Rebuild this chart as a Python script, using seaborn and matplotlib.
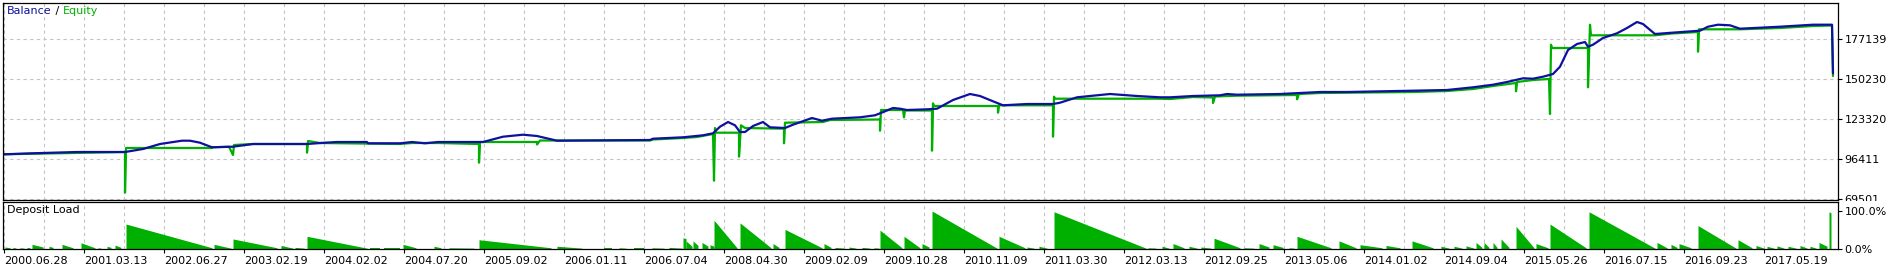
import numpy as np
import pandas as pd
import matplotlib
matplotlib.use("Agg")
import matplotlib.pyplot as plt
import seaborn as sns
from matplotlib.offsetbox import TextArea, HPacker, AnchoredOffsetbox
from matplotlib.ticker import FixedLocator
from matplotlib.transforms import Bbox, TransformedBbox

# ---------------- data ----------------
date_labels = ["2000.06.28", "2001.03.13", "2002.06.27", "2003.02.19", "2004.02.02",
               "2004.07.20", "2005.09.02", "2006.01.11", "2006.07.04", "2008.04.30",
               "2009.02.09", "2009.10.28", "2010.11.09", "2011.03.30", "2012.03.13",
               "2012.09.25", "2013.05.06", "2014.01.02", "2014.09.04", "2015.05.26",
               "2016.07.15", "2016.09.23", "2017.05.19"]
balance_ticks = [69501, 96411, 123320, 150230, 177139]
load_ticks = [0, 100]
load_tick_labels = ["0.0%", "100.0%"]

bal_deal = [0, 28, 73, 121, 139, 156, 178, 186, 196, 208, 229, 249, 274, 303, 321, 333,
            363, 364, 396, 408, 421, 434, 479, 499, 519, 533, 553, 646, 649, 679, 699,
            709, 716, 724, 731, 736, 741, 749, 759, 766, 781, 789, 808, 818, 828, 856,
            871, 881, 889, 896, 903, 923, 933, 949, 966, 976, 989, 999, 1023, 1049,
            1056, 1073, 1106, 1133, 1156, 1166, 1189, 1216, 1223, 1233, 1276, 1316,
            1343, 1409, 1443, 1469, 1489, 1503, 1519, 1529, 1539, 1549, 1556, 1564,
            1573, 1581, 1584, 1589, 1599, 1613, 1623, 1633, 1639, 1651, 1668, 1696,
            1704, 1714, 1726, 1736, 1776, 1809, 1828, 1829]
bal_value = [99572, 100245, 101120, 101120, 103138, 106501, 108722, 108722, 107376,
             104282, 104685, 106501, 106501, 106501, 107376, 107847, 107847, 106973,
             106973, 107847, 106973, 107847, 107847, 111413, 112758, 111884, 108722,
             109193, 110067, 111009, 112355, 113700, 118140, 121302, 119082, 114575,
             114575, 118611, 121302, 117736, 117266, 119486, 123993, 122177, 123522,
             124464, 125809, 128500, 130720, 130249, 129375, 129846, 130249, 136102,
             140139, 138793, 135227, 132537, 133411, 133411, 134286, 137919, 140139,
             138793, 137919, 137919, 138793, 139264, 140139, 139668, 140139, 141484,
             141484, 142359, 142830, 144646, 146395, 148212, 150701, 150432, 151777,
             153594, 158505, 169739, 173776, 175121, 171959, 173305, 177812, 180974,
             184540, 188576, 187231, 180503, 181378, 182723, 185414, 186760, 186356,
             184069, 185414, 186760, 186760, 154064]

eq_deal = [0, 121, 121, 122, 208, 208, 225, 229, 230, 249, 274, 303, 303, 304, 316, 396,
           408, 434, 475, 475, 476, 533, 533, 536, 553, 646, 649, 679, 693, 709, 710,
           711, 712, 735, 735, 737, 741, 780, 780, 781, 819, 826, 876, 876, 877, 899,
           900, 901, 928, 928, 929, 930, 994, 994, 995, 1049, 1049, 1050, 1051, 1156,
           1166, 1189, 1209, 1209, 1211, 1233, 1293, 1293, 1295, 1316, 1409, 1443,
           1469, 1489, 1512, 1512, 1513, 1529, 1545, 1546, 1547, 1548, 1584, 1584,
           1586, 1587, 1651, 1668, 1694, 1694, 1695, 1736, 1776, 1809, 1828, 1829]
eq_value = [99572, 101120, 73739, 103811, 103811, 104282, 104685, 99102, 105829, 106501,
            106501, 106501, 100649, 108520, 107174, 106501, 107174, 107174, 106501,
            93921, 107847, 107847, 106165, 108856, 108856, 108856, 109529, 110538,
            111211, 113229, 81812, 117266, 114104, 114104, 97958, 119082, 117266,
            116795, 106973, 120831, 121302, 122647, 122984, 115449, 129375, 129375,
            124464, 129038, 129038, 101994, 133882, 132066, 132066, 127558, 132537,
            132537, 111413, 138322, 136977, 136977, 136775, 138120, 137784, 134084,
            138457, 138995, 139466, 136573, 140139, 140811, 141484, 142157, 143502,
            145521, 147539, 141955, 148212, 149557, 150230, 126684, 173305, 171085,
            171085, 144646, 186760, 179627, 179627, 180839, 181849, 168596, 183665,
            183665, 184540, 185885, 186221, 152248]

# deposit load episodes: start deal, end deal, load at start (%), load at end (%)
load_start = [1, 9, 16, 23, 28, 45, 58, 77, 94, 103, 111, 122, 210, 229, 277, 291, 303,
              366, 380, 399, 430, 445, 475, 553, 600, 615, 630, 648, 665, 679, 682, 689,
              698, 706, 710, 736, 769, 781, 820, 831, 845, 858, 870, 876, 900, 918, 928,
              995, 1023, 1035, 1050, 1144, 1158, 1169, 1185, 1197, 1210, 1240, 1255,
              1269, 1285, 1293, 1335, 1356, 1382, 1408, 1437, 1450, 1462, 1472, 1480,
              1489, 1497, 1512, 1532, 1546, 1585, 1653, 1667, 1675, 1694, 1734, 1752,
              1763, 1773, 1784, 1796, 1806, 1815, 1825]
load_end = [6, 12, 20, 26, 39, 49, 69, 91, 97, 107, 117, 208, 227, 273, 289, 300, 363,
            376, 396, 412, 437, 470, 547, 578, 608, 622, 640, 660, 678, 682, 688, 694,
            704, 710, 733, 767, 775, 818, 827, 840, 852, 866, 875, 898, 916, 925, 993,
            1021, 1030, 1043, 1142, 1152, 1165, 1180, 1193, 1207, 1236, 1250, 1265,
            1279, 1290, 1327, 1352, 1378, 1396, 1429, 1445, 1458, 1470, 1478, 1485,
            1493, 1505, 1530, 1544, 1582, 1651, 1663, 1673, 1687, 1732, 1748, 1760,
            1770, 1780, 1792, 1803, 1812, 1823, 1827]
load_peak = [6, 5, 4, 5, 13, 8, 13, 17, 4, 8, 11, 66, 13, 27, 10, 5, 34, 3, 3, 13, 8, 4,
             25, 8, 3, 4, 3, 4, 5, 30, 22, 22, 18, 12, 76, 69, 15, 52, 15, 5, 6, 5, 4,
             50, 34, 15, 100, 34, 6, 8, 98, 4, 8, 15, 8, 6, 29, 4, 15, 12, 4, 34, 22,
             12, 10, 22, 8, 8, 9, 18, 18, 18, 27, 60, 15, 66, 98, 18, 13, 15, 62, 25,
             10, 8, 9, 8, 10, 8, 18, 98]
load_tail = [4, 3, 3, 4, 6, 5, 4, 4, 3, 5, 5, 4, 3, 4, 3, 3, 3, 3, 3, 4, 4, 3, 4, 3, 3,
             3, 3, 3, 3, 28, 8, 10, 8, 8, 4, 4, 5, 4, 5, 3, 3, 3, 3, 4, 4, 6, 3, 4, 3,
             3, 3, 3, 3, 4, 3, 3, 4, 3, 6, 5, 3, 4, 4, 4, 4, 4, 3, 3, 3, 5, 5, 5, 5, 4,
             4, 4, 3, 4, 5, 4, 3, 4, 3, 3, 3, 3, 3, 3, 8, 95]

# ---------------- style ----------------
BLUE = "#1010a0"
GREEN = "#00b000"
GRID = "#c4c4c4"

sns.set_theme(style="white")
plt.rcParams["font.family"] = ["DejaVu Sans"]
plt.rcParams["font.size"] = 8

W, H = 1889, 264
fig = plt.figure(figsize=(W / 100, H / 100), dpi=100)
fig.patch.set_facecolor("white")
L, R = 3.3, 1837.7
ax1 = fig.add_axes([L / W, 1 - 200 / H, (R - L) / W, (200 - 3.3) / H])
ax2 = fig.add_axes([L / W, 1 - 249.3 / H, (R - L) / W, (249.3 - 201.7) / H])

n = len(date_labels)
major = [80 * i for i in range(n)]
minor = [80 * i + 40 for i in range(n)]

for ax in (ax1, ax2):
    ax.set_facecolor("white")
    ax.set_xlim(-0.7, 1833.7)
    ax.xaxis.set_major_locator(FixedLocator(major))
    ax.xaxis.set_minor_locator(FixedLocator(minor))
    ax.grid(True, which="both", axis="x", color=GRID, linestyle=(0, (3, 3)), linewidth=0.8)
    for s in ax.spines.values():
        s.set_color("black")
        s.set_linewidth(0.9)
    ax.set_axisbelow(True)

# main panel
bal_df = pd.DataFrame({"deal": bal_deal, "value": bal_value})
eq_df = pd.DataFrame({"deal": eq_deal, "value": eq_value})
sns.lineplot(data=eq_df, x="deal", y="value", ax=ax1, color=GREEN, linewidth=1.6,
             estimator=None, sort=False, legend=False)
sns.lineplot(data=bal_df, x="deal", y="value", ax=ax1, color=BLUE, linewidth=1.6,
             estimator=None, sort=False, legend=False)
step = balance_ticks[1] - balance_ticks[0]
ax1.set_ylim(balance_ticks[0] - step / 40, balance_ticks[0] + step * 195.7 / 40)
ax1.set_yticks(balance_ticks)
ax1.set_yticklabels([str(v) for v in balance_ticks])
ax1.grid(True, which="major", axis="y", color=GRID, linestyle=(0, (3, 3)), linewidth=0.8)
ax1.yaxis.tick_right()
ax1.tick_params(axis="y", which="major", right=True, length=3, width=0.8, pad=2,
                labelsize=8, colors="black", direction="out")
ax1.tick_params(axis="x", which="both", bottom=False, labelbottom=False)
ax1.set_xlabel("")
ax1.set_ylabel("")

# title pieces
parts = [("Balance", BLUE), (" / ", "black"), ("Equity", GREEN)]
boxes = [TextArea(t, textprops=dict(color=c, fontsize=8)) for t, c in parts]
pack = HPacker(children=boxes, align="baseline", pad=0, sep=0)
ab = AnchoredOffsetbox(loc="upper left", child=pack, pad=0, borderpad=0, frameon=False,
                       bbox_to_anchor=(7 / W, 1 - 6 / H), bbox_transform=fig.transFigure)
ax1.add_artist(ab)

# lower panel: deposit load
for s0, s1, p, t in zip(load_start, load_end, load_peak, load_tail):
    ax2.fill_between([s0, s1], [p, t], 0, color=GREEN, linewidth=0)
ax2.set_ylim(0, 124.3)
ax2.set_yticks(load_ticks)
ax2.set_yticklabels(load_tick_labels)
ax2.yaxis.tick_right()
ax2.tick_params(axis="y", right=True, length=3, width=0.8, pad=2, labelsize=8,
                colors="black", direction="out")
ax2.set_xticklabels(date_labels, ha="left")
ax2.tick_params(axis="x", which="major", bottom=True, length=3, width=0.8, pad=2,
                labelsize=8, colors="black", direction="out")
ax2.tick_params(axis="x", which="minor", bottom=False)
ax2.text(7 / W, 1 - 205 / H, "Deposit Load", transform=fig.transFigure, fontsize=8,
         color="black", ha="left", va="top")

# clip the bottom balance label at the panel boundary like the reference
fig.canvas.draw()
clipbox = TransformedBbox(Bbox([[0.96, 1 - 201 / H], [1.0, 1.0]]), fig.transFigure)
for lab in ax1.get_yticklabels():
    lab.set_clip_box(clipbox)
    lab.set_clip_on(True)

fig.savefig("out.png", dpi=100, facecolor="white")
